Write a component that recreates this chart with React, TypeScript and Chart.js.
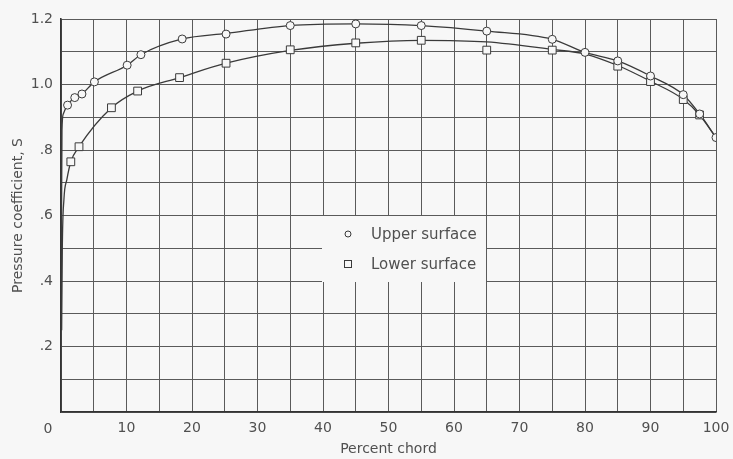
import React, { useEffect, useRef } from "react";
import { Chart, registerables } from "chart.js";

Chart.register(...registerables);

// Measured points (percent chord, pressure coefficient S)
const upperX = [1.0, 2.1, 3.2, 5.1, 10.1, 12.2, 18.5, 25.2, 35, 45, 55, 65, 75, 80, 85, 90, 95, 97.5, 100];
const upperY = [0.937, 0.96, 0.971, 1.008, 1.059, 1.091, 1.139, 1.154, 1.18, 1.185, 1.18, 1.163, 1.138, 1.098, 1.072, 1.026, 0.969, 0.91, 0.838];

const lowerX = [1.5, 2.75, 7.7, 11.7, 18.1, 25.2, 35, 45, 55, 65, 75, 85, 90, 95, 97.5];
const lowerY = [0.764, 0.81, 0.929, 0.98, 1.021, 1.065, 1.106, 1.127, 1.135, 1.105, 1.105, 1.056, 1.009, 0.954, 0.907];

// Faired curves
const upperCurveX = [0.05, 0.08, 0.15, 0.35, 1.0, 2.1, 3.2, 5.1, 10.1, 12.2, 18.5, 25.2, 35, 45, 55, 65, 75, 80, 85, 90, 95, 97.5, 100];
const upperCurveY = [0.25, 0.6, 0.86, 0.91, 0.937, 0.96, 0.971, 1.008, 1.059, 1.091, 1.139, 1.156, 1.18, 1.185, 1.18, 1.163, 1.138, 1.098, 1.072, 1.026, 0.969, 0.91, 0.838];

const lowerCurveX = [0.1, 0.2, 0.45, 0.9, 1.5, 2.75, 7.7, 11.7, 18.1, 25.2, 35, 45, 55, 65, 75, 80, 85, 90, 95, 97.5, 100];
const lowerCurveY = [0.25, 0.5, 0.65, 0.71, 0.764, 0.81, 0.929, 0.98, 1.021, 1.065, 1.104, 1.126, 1.135, 1.13, 1.107, 1.093, 1.058, 1.01, 0.955, 0.907, 0.838];

const legendLabels = ["Upper surface", "Lower surface"];
const xTitle = "Percent chord";
const yTitle = "Pressure coefficient, S";

const BG = "#f7f7f7";
const INK = "#3a3a3a";
const TXT = "#505050";
const FONT = "'DejaVu Sans', sans-serif";

const pts = (xs: number[], ys: number[]) => xs.map((x, i) => ({ x, y: ys[i] }));

const overlay = {
  id: "overlay",
  afterDraw(chart: any) {
    const ctx = chart.ctx as CanvasRenderingContext2D;
    const xs = chart.scales.x;
    ctx.save();
    // legend box (blanks the grid)
    ctx.fillStyle = BG;
    ctx.fillRect(322, 216, 164, 66);
    ctx.strokeStyle = INK;
    ctx.lineWidth = 1;
    ctx.beginPath();
    ctx.arc(348, 234, 3, 0, Math.PI * 2);
    ctx.stroke();
    ctx.strokeRect(344.5, 260.5, 7, 7);
    ctx.fillStyle = TXT;
    ctx.font = `15px ${FONT}`;
    ctx.textAlign = "left";
    ctx.textBaseline = "middle";
    ctx.fillText(legendLabels[0], 371, 235);
    ctx.fillText(legendLabels[1], 371, 265);
    // origin label
    ctx.font = `14px ${FONT}`;
    ctx.textAlign = "center";
    ctx.fillText("0", xs.getPixelForValue(0) - 13, 429);
    ctx.restore();
  },
};

export default function App() {
  const ref = useRef<HTMLCanvasElement>(null);
  useEffect(() => {
    if (!ref.current) return;
    const chart = new Chart(ref.current, {
      type: "scatter",
      data: {
        datasets: [
          {
            label: legendLabels[0],
            data: pts(upperX, upperY),
            showLine: false,
            pointStyle: "circle",
            pointRadius: 4,
            pointBorderWidth: 1,
            pointBackgroundColor: BG,
            pointBorderColor: INK,
          },
          {
            label: legendLabels[1],
            data: pts(lowerX, lowerY),
            showLine: false,
            pointStyle: "rect",
            pointRadius: 5.5,
            pointBorderWidth: 1,
            pointBackgroundColor: BG,
            pointBorderColor: INK,
          },
          {
            label: "upper curve",
            data: pts(upperCurveX, upperCurveY),
            showLine: true,
            pointRadius: 0,
            borderColor: INK,
            borderWidth: 1.3,
            cubicInterpolationMode: "monotone",
          },
          {
            label: "lower curve",
            data: pts(lowerCurveX, lowerCurveY),
            showLine: true,
            pointRadius: 0,
            borderColor: INK,
            borderWidth: 1.3,
            cubicInterpolationMode: "monotone",
          },
        ],
      },
      options: {
        animation: false,
        responsive: true,
        maintainAspectRatio: false,
        layout: { padding: { top: 19, right: 17, left: 0, bottom: 0 } },
        plugins: { legend: { display: false }, tooltip: { enabled: false } },
        scales: {
          x: {
            type: "linear",
            min: 0,
            max: 100,
            afterFit: (s: any) => {
              s.height = 47;
              s.paddingLeft = 0;
              s.paddingRight = 0;
            },
            ticks: {
              stepSize: 5,
              autoSkip: false,
              maxRotation: 0,
              padding: 8,
              color: TXT,
              font: { family: FONT, size: 14 },
              callback: (v: any) => {
                const n = Math.round(Number(v));
                return n % 10 === 0 && n > 0 ? String(n) : "";
              },
            },
            grid: { color: "#5a5a5a", lineWidth: 1, drawTicks: false },
            border: { color: "#333", width: 1.6 },
            title: {
              display: true,
              text: xTitle,
              color: TXT,
              font: { family: FONT, size: 14 },
              padding: { top: 0, bottom: 1 },
            },
          },
          y: {
            type: "linear",
            min: 0,
            max: 1.2,
            afterFit: (s: any) => {
              s.width = 61;
              s.paddingTop = 0;
              s.paddingBottom = 0;
            },
            ticks: {
              stepSize: 0.1,
              autoSkip: false,
              padding: 8,
              color: TXT,
              font: { family: FONT, size: 14 },
              callback: (v: any) => {
                const n = Math.round(Number(v) * 10);
                if (n === 0 || n % 2 !== 0) return "";
                return n < 10 ? "." + n : (n / 10).toFixed(1);
              },
            },
            grid: { color: "#5a5a5a", lineWidth: 1, drawTicks: false },
            border: { color: "#333", width: 1.6 },
            title: {
              display: true,
              text: yTitle,
              color: TXT,
              font: { family: FONT, size: 14 },
              padding: { top: 10, bottom: 0 },
            },
          },
        },
      },
      plugins: [overlay],
    });
    return () => chart.destroy();
  }, []);
  return (
    <div style={{ position: "absolute", left: 0, top: 0, width: 733, height: 459, background: BG }}>
      <canvas ref={ref} />
    </div>
  );
}
